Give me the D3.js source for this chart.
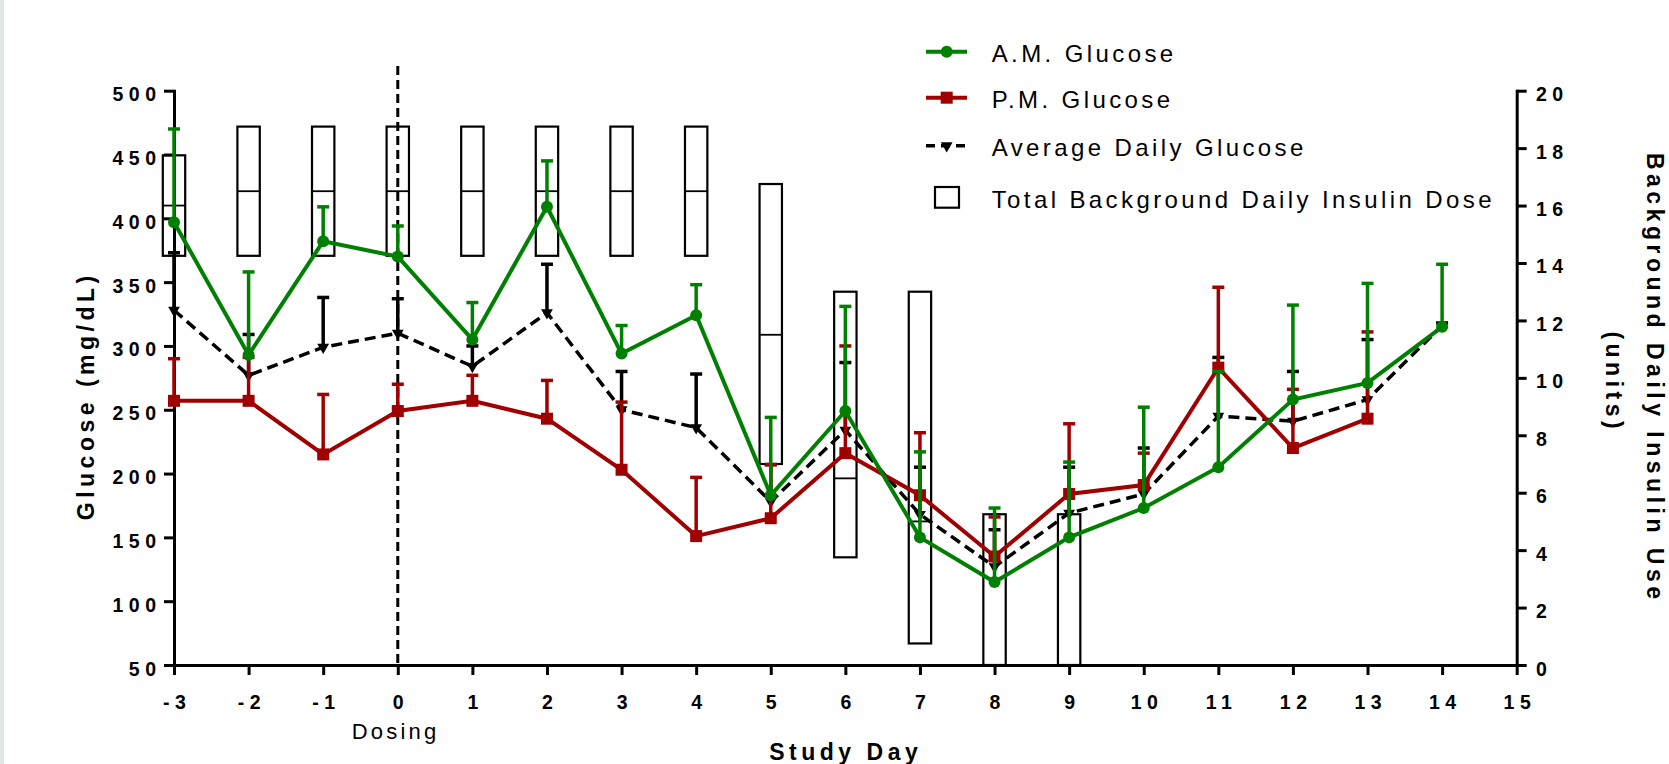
<!DOCTYPE html>
<html>
<head>
<meta charset="utf-8">
<script src="https://cdn.jsdelivr.net/npm/d3@7"></script>
<style>
  body { margin: 0; background: #fff; }
  svg text { font-family: Arial, "Liberation Sans", sans-serif; fill: #000; }
  .axis .tick text { font-size: 19.5px; font-weight: bold; letter-spacing: 5.5px; }
  .axis .domain { stroke: #000; stroke-width: 3px; stroke-linecap: square; }
  .axis .tick line { stroke: #000; stroke-width: 3px; }
  .title { font-size: 23px; font-weight: bold; letter-spacing: 4.5px; }
  .legend text { font-size: 24px; letter-spacing: 3.4px; }
</style>
</head>
<body>
<svg id="chart" width="1669" height="764"></svg>
<script>
// study days
var days = [-3, -2, -1, 0, 1, 2, 3, 4, 5, 6, 7, 8, 9, 10, 11, 12, 13, 14];

// A.M. glucose (mg/dL), mean and top of error bar
var amGlucose = [397, 293, 382, 370, 305, 409, 294, 324, 183, 249, 150, 115, 150, 173, 205, 258, 271, 315];
var amGlucoseTop = [470, 358, 409, 394, 334, 445, 316, 348, 244, 331, 217, 173, 209, 252, 280, 332, 349, 364];

// P.M. glucose (no reading on day 14)
var pmDays = [-3, -2, -1, 0, 1, 2, 3, 4, 5, 6, 7, 8, 9, 10, 11, 12, 13];
var pmGlucose = [257, 257, 215, 249, 257, 243, 203, 151, 165, 216, 183, 135, 184, 191, 283, 220, 243];
var pmGlucoseTop = [290, 291, 262, 270, 277, 273, 256, 197, 207, 300, 232, 166, 239, 216, 346, 266, 311];

// average daily glucose
var avgGlucose = [328, 277, 299, 310, 284, 326, 250, 236, 178, 234, 168, 127, 169, 184, 245, 241, 258, 316];
var avgGlucoseTop = [373, 309, 338, 337, 300, 364, 280, 278, 207, 287, 205, 156, 205, 220, 291, 280, 305, 318];

// total background daily insulin dose (units), floating bars min-max with mean line
var insulinDays = [-3, -2, -1, 0, 1, 2, 3, 4, 5, 6, 7, 8, 9];
var insulinMin = [14.25, 14.25, 14.25, 14.25, 14.25, 14.25, 14.25, 14.25, 7, 3.75, 0.75, 0, 0];
var insulinMax = [17.75, 18.75, 18.75, 18.75, 18.75, 18.75, 18.75, 18.75, 16.75, 13, 13, 5.25, 5.25];
var insulinMean = [16, 16.5, 16.5, 16.5, 16.5, 16.5, 16.5, 16.5, 11.5, 6.5, 5, null, null];

var xTicks = [-3, -2, -1, 0, 1, 2, 3, 4, 5, 6, 7, 8, 9, 10, 11, 12, 13, 14, 15];
var yTicks = [50, 100, 150, 200, 250, 300, 350, 400, 450, 500];
var y2Ticks = [0, 2, 4, 6, 8, 10, 12, 14, 16, 18, 20];
var dosingDay = 0;

var legendLabels = ["A.M. Glucose", "P.M. Glucose", "Average Daily Glucose", "Total Background Daily Insulin Dose"];

var green = "#008000";
var red = "#a00000";

var svg = d3.select("#chart");

// faint strip on the left edge
svg.append("rect").attr("x", 0).attr("y", 0).attr("width", 4).attr("height", 764).attr("fill", "#e1e7e4");

var xScale = d3.scaleLinear().domain([-3, 15]).range([174, 1516.7]);
var yScale = d3.scaleLinear().domain([50, 500]).range([665, 90.7]);
var y2Scale = d3.scaleLinear().domain([0, 20]).range([665, 90.7]);

// axes
var gX = svg.append("g")
  .attr("class", "axis")
  .attr("transform", "translate(0," + yScale(50) + ")")
  .call(d3.axisBottom(xScale).tickValues(xTicks).tickFormat(function(d) { return String(d); })
    .tickSize(10).tickSizeOuter(0).tickPadding(20));
gX.selectAll(".tick text").attr("dx", "2.75px");

var gY = svg.append("g")
  .attr("class", "axis")
  .attr("transform", "translate(" + xScale(-3) + ",0)")
  .call(d3.axisLeft(yScale).tickValues(yTicks).tickSize(10).tickSizeOuter(0).tickPadding(2.5));
gY.selectAll(".tick text").attr("dy", "10px");

var gY2 = svg.append("g")
  .attr("class", "axis")
  .attr("transform", "translate(" + xScale(15) + ",0)")
  .call(d3.axisRight(y2Scale).tickValues(y2Ticks).tickSize(10).tickSizeOuter(0).tickPadding(9.3));
gY2.selectAll(".tick text").attr("dy", "10px");

svg.selectAll(".axis text").attr("font-family", null);

// insulin boxes
var halfW = (xScale(0.15) - xScale(-0.15)) / 2;
var boxes = svg.append("g");
boxes.selectAll("rect").data(insulinDays).enter().append("rect")
  .attr("x", function(d) { return xScale(d) - halfW; })
  .attr("y", function(d, i) { return y2Scale(insulinMax[i]); })
  .attr("width", halfW * 2)
  .attr("height", function(d, i) { return y2Scale(insulinMin[i]) - y2Scale(insulinMax[i]); })
  .attr("fill", "none").attr("stroke", "#000").attr("stroke-width", 2.2);
boxes.selectAll("line").data(insulinDays.filter(function(d, i) { return insulinMean[i] != null; })).enter().append("line")
  .attr("x1", function(d) { return xScale(d) - halfW; })
  .attr("x2", function(d) { return xScale(d) + halfW; })
  .attr("y1", function(d) { return y2Scale(insulinMean[insulinDays.indexOf(d)]); })
  .attr("y2", function(d) { return y2Scale(insulinMean[insulinDays.indexOf(d)]); })
  .attr("stroke", "#000").attr("stroke-width", 1.8);

// dosing line
svg.append("line")
  .attr("x1", xScale(dosingDay)).attr("x2", xScale(dosingDay))
  .attr("y1", 66).attr("y2", yScale(50))
  .attr("stroke", "#000").attr("stroke-width", 3).attr("stroke-dasharray", "9,5");

function drawSeries(xs, means, tops, color, dash, marker) {
  var g = svg.append("g");
  g.selectAll("line.bar").data(means).enter().append("line")
    .attr("x1", function(d, i) { return xScale(xs[i]); })
    .attr("x2", function(d, i) { return xScale(xs[i]); })
    .attr("y1", function(d) { return yScale(d); })
    .attr("y2", function(d, i) { return yScale(tops[i]); })
    .attr("stroke", color).attr("stroke-width", 3.5);
  g.selectAll("line.cap").data(tops).enter().append("line")
    .attr("x1", function(d, i) { return xScale(xs[i]) - 6; })
    .attr("x2", function(d, i) { return xScale(xs[i]) + 6; })
    .attr("y1", function(d) { return yScale(d); })
    .attr("y2", function(d) { return yScale(d); })
    .attr("stroke", color).attr("stroke-width", 3.5);

  var line = d3.line()
    .x(function(d, i) { return xScale(xs[i]); })
    .y(function(d) { return yScale(d); });
  g.append("path").datum(means)
    .attr("d", line)
    .attr("fill", "none").attr("stroke", color)
    .attr("stroke-width", dash ? 3.5 : 4)
    .attr("stroke-dasharray", dash);

  var pts = g.selectAll(".pt").data(means).enter();
  if (marker == "circle") {
    pts.append("circle")
      .attr("cx", function(d, i) { return xScale(xs[i]); })
      .attr("cy", function(d) { return yScale(d); })
      .attr("r", 6).attr("fill", color);
  } else if (marker == "square") {
    pts.append("rect")
      .attr("x", function(d, i) { return xScale(xs[i]) - 6; })
      .attr("y", function(d) { return yScale(d) - 6; })
      .attr("width", 12).attr("height", 12).attr("fill", color);
  } else {
    pts.append("path")
      .attr("d", d3.symbol().type(d3.symbolTriangle).size(60))
      .attr("transform", function(d, i) { return "translate(" + xScale(xs[i]) + "," + yScale(d) + ") rotate(180)"; })
      .attr("fill", color);
  }
}

drawSeries(days, avgGlucose, avgGlucoseTop, "#000", "11,6", "triangle");
drawSeries(pmDays, pmGlucose, pmGlucoseTop, red, null, "square");
drawSeries(days, amGlucose, amGlucoseTop, green, null, "circle");

// axis titles
svg.append("text").attr("class", "title")
  .attr("transform", "translate(94,398) rotate(-90)")
  .attr("text-anchor", "middle").attr("dx", "2.25px")
  .text("Glucose (mg/dL)");
svg.append("text").attr("class", "title")
  .attr("transform", "translate(1647,376) rotate(90)")
  .attr("text-anchor", "middle").attr("dx", "2.25px")
  .text("Background Daily Insulin Use");
svg.append("text").attr("class", "title")
  .attr("transform", "translate(1606,380) rotate(90)")
  .attr("text-anchor", "middle").attr("dx", "2.25px")
  .text("(units)");
svg.append("text").attr("class", "title")
  .attr("x", 843.5).attr("y", 760)
  .attr("text-anchor", "middle").attr("dx", "2.25px")
  .text("Study Day");
svg.append("text")
  .attr("x", 394).attr("y", 739)
  .attr("text-anchor", "middle").attr("dx", "1.6px")
  .style("font-size", "22px").style("letter-spacing", "3.2px")
  .text("Dosing");

// legend
var legend = svg.append("g").attr("class", "legend");
var rowY = [51.7, 97.7, 145.7, 197.3];
var lx0 = 926, lx1 = 967, lxm = 946.7, ltx = 991.7;

legend.append("line").attr("x1", lx0).attr("x2", lx1).attr("y1", rowY[0]).attr("y2", rowY[0])
  .attr("stroke", green).attr("stroke-width", 4);
legend.append("circle").attr("cx", lxm).attr("cy", rowY[0]).attr("r", 6).attr("fill", green);

legend.append("line").attr("x1", lx0).attr("x2", lx1).attr("y1", rowY[1]).attr("y2", rowY[1])
  .attr("stroke", red).attr("stroke-width", 4);
legend.append("rect").attr("x", lxm - 6).attr("y", rowY[1] - 6).attr("width", 12).attr("height", 12).attr("fill", red);

legend.append("line").attr("x1", lx0).attr("x2", lx1).attr("y1", rowY[2]).attr("y2", rowY[2])
  .attr("stroke", "#000").attr("stroke-width", 3.5).attr("stroke-dasharray", "9,6");
legend.append("path").attr("d", d3.symbol().type(d3.symbolTriangle).size(60))
  .attr("transform", "translate(" + lxm + "," + rowY[2] + ") rotate(180)").attr("fill", "#000");

legend.append("rect").attr("x", 935).attr("y", 187).attr("width", 24).attr("height", 20.7)
  .attr("fill", "none").attr("stroke", "#000").attr("stroke-width", 2.2);

legend.selectAll("text").data(legendLabels).enter().append("text")
  .attr("x", ltx)
  .attr("y", function(d, i) { return rowY[i] + 10.5; })
  .text(function(d) { return d; });
</script>
</body>
</html>
